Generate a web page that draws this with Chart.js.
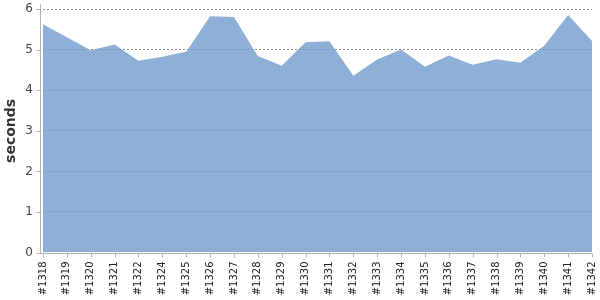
<!DOCTYPE html>
<html>
<head>
<meta charset="utf-8">
<script src="https://cdn.jsdelivr.net/npm/chart.js@4"></script>
<style>
html,body{margin:0;padding:0;background:#fff;}
#wrap{width:600px;height:300px;position:relative;}
</style>
</head>
<body>
<div id="wrap"><canvas id="c" width="600" height="300"></canvas></div>
<script>
const categories = ["#1318","#1319","#1320","#1321","#1322","#1324","#1325","#1326","#1327","#1328","#1329","#1330","#1331","#1332","#1333","#1334","#1335","#1336","#1337","#1338","#1339","#1340","#1341","#1342"];
const seconds = [5.63,5.31,4.99,5.13,4.73,4.83,4.95,5.83,5.81,4.85,4.61,5.19,5.21,4.36,4.76,5.01,4.58,4.86,4.63,4.77,4.68,5.10,5.86,5.22];
const yTicks = [0,1,2,3,4,5,6];

const axisPlugin = {
  id: 'axisLines',
  afterDraw(chart) {
    const ctx = chart.ctx;
    const a = chart.chartArea;
    const xs = chart.scales.x, ys = chart.scales.y;
    ctx.save();
    ctx.strokeStyle = '#b4b4b4';
    ctx.lineWidth = 1;
    // y axis
    const ax = Math.round(a.left - 3) + 0.5;
    const ay = Math.round(a.bottom) + 0.5;
    ctx.beginPath();
    ctx.moveTo(ax, a.top - 5);
    ctx.lineTo(ax, ay);
    ctx.stroke();
    yTicks.forEach(v => {
      const y = Math.round(ys.getPixelForValue(v)) + 0.5;
      ctx.beginPath();
      ctx.moveTo(ax - 4, y);
      ctx.lineTo(ax, y);
      ctx.stroke();
    });
    // x axis
    ctx.beginPath();
    ctx.moveTo(ax, ay);
    ctx.lineTo(a.right, ay);
    ctx.stroke();
    categories.forEach((c, i) => {
      const x = Math.round(xs.getPixelForValue(i)) + 0.5;
      ctx.beginPath();
      ctx.moveTo(x, ay);
      ctx.lineTo(x, ay + 4);
      ctx.stroke();
    });
    ctx.restore();
  }
};

new Chart(document.getElementById('c'), {
  type: 'line',
  data: {
    labels: categories,
    datasets: [{
      data: seconds,
      fill: 'origin',
      backgroundColor: 'rgba(114,156,206,0.8)',
      borderWidth: 0,
      borderColor: 'rgba(0,0,0,0)',
      pointRadius: 0,
      tension: 0
    }]
  },
  options: {
    responsive: false,
    animation: false,
    events: [],
    layout: { padding: { top: 9.3, right: 8, left: 0, bottom: 0 } },
    plugins: { legend: { display: false }, tooltip: { enabled: false } },
    scales: {
      x: {
        offset: false,
        grid: { display: false, drawTicks: false },
        border: { display: false },
        ticks: {
          autoSkip: false,
          maxRotation: 90,
          minRotation: 90,
          padding: 9,
          color: '#222',
          font: { family: 'DejaVu Sans', size: 10 }
        },
        afterFit(s) { s.height = 47.5; s.paddingLeft = 0; s.paddingRight = 0; }
      },
      y: {
        min: 0,
        max: 6,
        grid: {
          color: (c) => (c.tick && c.tick.value === 0) ? 'rgba(0,0,0,0)' : '#8f8f8f',
          lineWidth: 1,
          drawTicks: false
        },
        border: { display: false, dash: [2, 2] },
        ticks: {
          stepSize: 1,
          padding: 10,
          color: '#444',
          font: { family: 'DejaVu Sans', size: 12 }
        },
        title: {
          display: true,
          text: 'seconds',
          color: '#333',
          padding: { top: 3, bottom: 0 },
          font: { family: 'DejaVu Sans', size: 14, weight: 'bold' }
        },
        afterFit(s) { s.width = 43; s.paddingTop = 0; s.paddingBottom = 0; }
      }
    }
  },
  plugins: [axisPlugin]
});
</script>
</body>
</html>
